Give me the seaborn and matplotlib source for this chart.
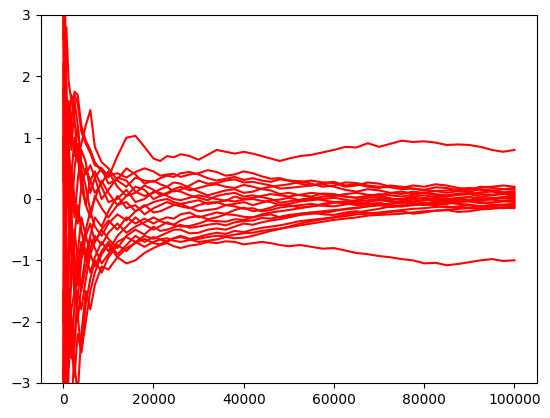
import pandas as pd
import seaborn as sns
from matplotlib import pyplot as plt

# sample positions (x) shared by every walk
steps = [0, 300, 700, 1200, 1800, 2500, 3200, 4000, 5000, 6000, 7000, 8500,
         10000, 12000, 14000, 16000, 18000,
         20000, 21500, 23000, 24500, 26000, 28000, 30000, 32000, 34000, 36000,
         38000, 40000, 42000, 44000, 46000, 48000, 50000, 52500, 55000, 57500,
         60000, 62500, 65000, 67500, 70000, 72500, 75000, 77500, 80000, 82500,
         85000, 87500, 90000, 92500, 95000, 97500, 100000]

# running averages, one list per line
s01 = [4.0, 2.6, 1.4, 0.9, 1.3, 1.75, 1.7, 1.2, 0.95, 0.8, 0.6, 0.45, 0.35, 0.7, 1.0, 1.03, 0.85,
       0.66, 0.62, 0.7, 0.68, 0.73, 0.7, 0.64, 0.72, 0.8, 0.77, 0.74, 0.77, 0.74, 0.7, 0.66, 0.62, 0.66, 0.7, 0.72,
       0.76, 0.8, 0.85, 0.84, 0.91, 0.85, 0.9, 0.95, 0.93, 0.94, 0.92, 0.88, 0.89, 0.88, 0.85, 0.8, 0.77, 0.8]
s02 = [-4.5, -3.2, -2.0, -2.6, -1.8, -1.5, -1.9, -2.5, -2.0, -1.5, -1.2, -0.9, -0.75, -0.95, -1.05, -1.0, -0.88,
       -0.8, -0.75, -0.72, -0.77, -0.8, -0.76, -0.74, -0.7, -0.72, -0.69, -0.7, -0.74, -0.72, -0.7, -0.72, -0.75, -0.77, -0.75, -0.78,
       -0.81, -0.8, -0.84, -0.88, -0.9, -0.93, -0.95, -0.98, -1.0, -1.05, -1.04, -1.08, -1.06, -1.03, -1.0, -0.98, -1.01, -1.0]
s03 = [-3.5, 1.5, 2.8, 1.9, 1.6, 1.7, 1.55, 1.1, 0.9, 0.75, 0.55, 0.5, 0.38, 0.42, 0.35, 0.44, 0.5,
       0.45, 0.38, 0.4, 0.41, 0.36, 0.4, 0.42, 0.47, 0.44, 0.38, 0.4, 0.45, 0.42, 0.37, 0.33, 0.34, 0.3, 0.29, 0.25,
       0.2, 0.22, 0.27, 0.26, 0.22, 0.2, 0.19, 0.16, 0.17, 0.14, 0.13, 0.1, 0.13, 0.15, 0.2, 0.18, 0.16, 0.18]
s04 = [5.0, 3.1, 0.5, 1.2, 1.7, 1.3, 0.6, 0.9, 1.2, 1.45, 0.85, 0.6, 0.5, 0.3, 0.2, 0.35, 0.3,
       0.28, 0.34, 0.38, 0.36, 0.42, 0.44, 0.4, 0.34, 0.3, 0.33, 0.36, 0.31, 0.34, 0.3, 0.28, 0.32, 0.3, 0.25, 0.22,
       0.24, 0.2, 0.15, 0.12, 0.16, 0.14, 0.1, 0.08, 0.12, 0.1, 0.06, 0.04, 0.07, 0.08, 0.04, 0.06, 0.08, 0.05]
s05 = [2.2, -1.0, 0.8, 1.6, 1.1, 0.7, 1.2, 0.6, 0.4, 0.55, 0.35, 0.5, 0.25, 0.32, 0.5, 0.4, 0.25,
       0.3, 0.24, 0.2, 0.12, 0.15, 0.22, 0.3, 0.25, 0.26, 0.3, 0.32, 0.27, 0.28, 0.25, 0.22, 0.17, 0.18, 0.2, 0.22,
       0.26, 0.28, 0.22, 0.24, 0.2, 0.18, 0.22, 0.2, 0.17, 0.15, 0.19, 0.18, 0.14, 0.12, 0.16, 0.14, 0.11, 0.12]
s06 = [-2.0, 2.5, 1.0, -0.5, 0.4, 1.0, 0.7, 0.2, 0.5, 0.3, 0.1, 0.25, 0.45, 0.2, 0.05, 0.1, 0.22,
       0.15, 0.06, 0.1, 0.16, 0.2, 0.14, 0.18, 0.22, 0.24, 0.2, 0.18, 0.23, 0.2, 0.16, 0.14, 0.08, 0.1, 0.06, 0.04,
       0.09, 0.08, 0.04, 0.02, 0.05, 0.06, 0.01, -0.02, 0.02, 0.0, -0.03, -0.04, 0.0, -0.02, -0.05, -0.06, -0.03, -0.05]
s07 = [3.8, 1.8, 1.5, 0.9, 0.2, -0.3, 0.3, 0.8, 0.6, 0.1, 0.35, 0.0, 0.15, 0.35, 0.3, 0.12, 0.05,
       0.1, 0.16, 0.2, 0.27, 0.25, 0.18, 0.12, 0.06, 0.1, 0.14, 0.16, 0.1, 0.12, 0.17, 0.2, 0.22, 0.24, 0.28, 0.3,
       0.27, 0.26, 0.2, 0.22, 0.27, 0.25, 0.2, 0.18, 0.22, 0.2, 0.24, 0.22, 0.18, 0.16, 0.19, 0.2, 0.22, 0.2]
s08 = [-5.0, -2.2, 0.2, 1.4, 0.8, 1.6, 1.2, 0.5, 0.2, -0.2, 0.0, 0.3, 0.1, -0.1, 0.05, 0.2, 0.15,
       0.0, 0.05, 0.08, 0.14, 0.12, 0.06, 0.02, -0.02, 0.05, 0.08, 0.1, 0.04, 0.06, 0.03, 0.0, -0.06, -0.04, -0.01, 0.02,
       -0.02, -0.05, -0.07, -0.1, -0.09, -0.06, -0.1, -0.12, -0.1, -0.08, -0.11, -0.14, -0.12, -0.1, -0.13, -0.12, -0.1, -0.12]
s09 = [1.0, -3.3, -1.5, -0.6, 0.5, 0.0, -0.4, 0.2, -0.1, 0.3, 0.45, 0.2, -0.05, 0.0, 0.15, -0.05, 0.0,
       0.12, 0.1, 0.05, 0.0, -0.02, 0.02, 0.06, 0.03, 0.0, -0.03, 0.04, 0.0, 0.02, 0.05, 0.08, 0.06, 0.04, 0.07, 0.1,
       0.08, 0.06, 0.04, 0.02, 0.05, 0.08, 0.06, 0.04, 0.07, 0.1, 0.08, 0.06, 0.09, 0.1, 0.08, 0.07, 0.09, 0.08]
s10 = [-3.8, 0.5, -1.8, -1.0, -0.3, 0.5, 0.9, 0.4, -0.1, -0.3, 0.05, -0.15, -0.3, -0.1, -0.05, -0.2, -0.12,
       -0.05, -0.02, 0.0, -0.05, -0.08, -0.05, -0.02, -0.08, -0.06, -0.02, -0.04, -0.01, 0.0, -0.03, -0.05, -0.1, -0.08, -0.04, -0.02,
       0.0, 0.02, -0.01, -0.04, -0.02, 0.0, -0.03, -0.06, -0.04, -0.02, 0.01, 0.0, -0.02, -0.04, -0.02, -0.01, -0.03, -0.02]
s11 = [0.3, 2.0, -0.8, -2.2, -1.3, -0.6, -0.1, -0.5, -0.9, -0.6, -0.3, -0.45, -0.2, 0.05, -0.15, -0.1, -0.25,
       -0.15, -0.1, -0.05, -0.09, -0.12, -0.15, -0.1, -0.06, -0.05, -0.1, -0.08, -0.05, -0.1, -0.06, -0.02, -0.01, 0.02, -0.02, 0.0,
       0.04, 0.05, 0.08, 0.1, 0.07, 0.06, 0.1, 0.12, 0.09, 0.1, 0.13, 0.14, 0.16, 0.18, 0.15, 0.13, 0.16, 0.15]
s12 = [-2.8, -4.0, -2.6, -1.2, -0.4, -0.9, -1.4, -0.8, -0.5, -0.2, -0.45, -0.6, -0.4, -0.25, -0.35, -0.2, -0.1,
       -0.22, -0.2, -0.15, -0.1, -0.08, -0.14, -0.2, -0.18, -0.16, -0.1, -0.12, -0.16, -0.15, -0.2, -0.18, -0.14, -0.12, -0.1, -0.08,
       -0.11, -0.12, -0.09, -0.06, -0.08, -0.1, -0.07, -0.05, -0.08, -0.1, -0.08, -0.06, -0.08, -0.09, -0.12, -0.1, -0.09, -0.08]
s13 = [4.5, 0.0, 1.2, 0.2, -0.8, -1.6, -0.9, -0.3, -0.6, -0.4, -0.7, -0.5, -0.35, -0.5, -0.3, -0.4, -0.32,
       -0.4, -0.34, -0.3, -0.32, -0.25, -0.22, -0.3, -0.26, -0.22, -0.24, -0.18, -0.14, -0.2, -0.18, -0.14, -0.09, -0.1, -0.14, -0.12,
       -0.08, -0.05, -0.04, -0.08, -0.05, -0.02, -0.04, -0.05, -0.01, 0.02, 0.0, -0.02, 0.01, 0.03, 0.01, 0.0, 0.03, 0.02]
s14 = [-4.2, -1.5, -3.1, -2.0, -1.0, -0.5, -1.0, -1.5, -1.1, -0.8, -0.6, -0.75, -0.55, -0.4, -0.55, -0.45, -0.38,
       -0.3, -0.36, -0.4, -0.42, -0.35, -0.3, -0.28, -0.33, -0.3, -0.25, -0.26, -0.29, -0.3, -0.27, -0.25, -0.3, -0.28, -0.24, -0.22,
       -0.25, -0.26, -0.22, -0.2, -0.23, -0.24, -0.21, -0.2, -0.24, -0.22, -0.19, -0.18, -0.21, -0.2, -0.17, -0.16, -0.14, -0.15]
s15 = [2.6, 3.5, 1.9, 0.6, -0.2, -1.2, -2.0, -1.4, -0.9, -1.2, -0.95, -0.7, -0.85, -0.6, -0.45, -0.3, -0.42,
       -0.5, -0.44, -0.38, -0.42, -0.45, -0.44, -0.4, -0.35, -0.36, -0.37, -0.33, -0.34, -0.3, -0.25, -0.22, -0.2, -0.18, -0.15, -0.12,
       -0.1, -0.06, -0.05, -0.02, 0.02, 0.03, 0.0, 0.0, 0.04, 0.06, 0.03, 0.04, 0.07, 0.08, 0.11, 0.12, 0.09, 0.1]
s16 = [-1.5, -3.6, -4.1, -2.8, -1.9, -2.3, -1.6, -1.0, -0.6, -0.9, -0.7, -0.5, -0.65, -0.8, -0.6, -0.5, -0.58,
       -0.45, -0.52, -0.5, -0.46, -0.42, -0.47, -0.45, -0.42, -0.4, -0.43, -0.38, -0.36, -0.35, -0.31, -0.32, -0.29, -0.26, -0.24, -0.22,
       -0.2, -0.18, -0.17, -0.15, -0.12, -0.1, -0.13, -0.12, -0.08, -0.06, -0.09, -0.08, -0.05, -0.04, -0.07, -0.06, -0.04, -0.04]
s17 = [3.2, -2.5, -3.4, -2.2, -2.6, -1.7, -1.1, -0.7, -1.0, -0.65, -0.8, -1.05, -0.9, -0.7, -0.62, -0.7, -0.6,
       -0.65, -0.6, -0.55, -0.5, -0.5, -0.56, -0.55, -0.5, -0.48, -0.5, -0.45, -0.4, -0.42, -0.38, -0.35, -0.33, -0.3, -0.26, -0.24,
       -0.23, -0.2, -0.16, -0.14, -0.12, -0.1, -0.08, -0.06, -0.05, -0.02, -0.03, 0.0, 0.02, 0.03, 0.0, 0.01, 0.03, 0.04]
s18 = [-3.0, -1.0, -2.3, -3.3, -3.5, -2.4, -1.5, -1.8, -1.3, -0.9, -1.1, -0.85, -0.7, -0.9, -0.75, -0.6, -0.7,
       -0.62, -0.66, -0.7, -0.64, -0.6, -0.65, -0.62, -0.58, -0.55, -0.57, -0.52, -0.54, -0.5, -0.47, -0.45, -0.43, -0.4, -0.36, -0.34,
       -0.32, -0.3, -0.28, -0.25, -0.24, -0.22, -0.2, -0.18, -0.16, -0.15, -0.13, -0.12, -0.15, -0.14, -0.12, -0.1, -0.11, -0.1]
s19 = [1.8, -2.0, -1.1, -1.8, -2.4, -2.9, -2.2, -2.5, -1.7, -1.3, -1.0, -1.2, -0.95, -0.75, -0.85, -0.7, -0.78,
       -0.7, -0.66, -0.64, -0.68, -0.7, -0.67, -0.65, -0.62, -0.6, -0.61, -0.58, -0.56, -0.55, -0.52, -0.5, -0.48, -0.46, -0.43, -0.4,
       -0.37, -0.34, -0.32, -0.3, -0.27, -0.26, -0.25, -0.24, -0.22, -0.2, -0.19, -0.18, -0.16, -0.15, -0.16, -0.14, -0.15, -0.13]
s20 = [-4.8, -3.9, -2.9, -1.5, -2.0, -2.7, -3.2, -2.2, -1.5, -1.8, -1.4, -1.1, -1.15, -0.95, -0.8, -0.72, -0.65,
       -0.72, -0.74, -0.68, -0.64, -0.62, -0.66, -0.7, -0.68, -0.66, -0.62, -0.64, -0.63, -0.6, -0.56, -0.52, -0.49, -0.45, -0.4, -0.36,
       -0.33, -0.3, -0.25, -0.22, -0.19, -0.16, -0.12, -0.1, -0.1, -0.08, -0.05, -0.04, -0.03, -0.02, 0.0, 0.02, 0.01, 0.0]

walks = [s01, s02, s03, s04, s05, s06, s07, s08, s09, s10,
         s11, s12, s13, s14, s15, s16, s17, s18, s19, s20]

# long table for seaborn
frames = []
for i, w in enumerate(walks):
    frames.append(pd.DataFrame({"step": steps, "mean": w, "walk": i}))
df = pd.concat(frames, ignore_index=True)

fig, ax = plt.subplots(figsize=(5.5, 4.18), dpi=100)
fig.subplots_adjust(left=40.7 / 550, right=537 / 550, bottom=35 / 418, top=403 / 418)

sns.lineplot(data=df, x="step", y="mean", units="walk", estimator=None,
             color="red", linewidth=1.5, ax=ax, legend=False)

ax.set_ylim(-3, 3)
ax.set_xlabel("")
ax.set_ylabel("")

fig.savefig("out.png", dpi=100)
